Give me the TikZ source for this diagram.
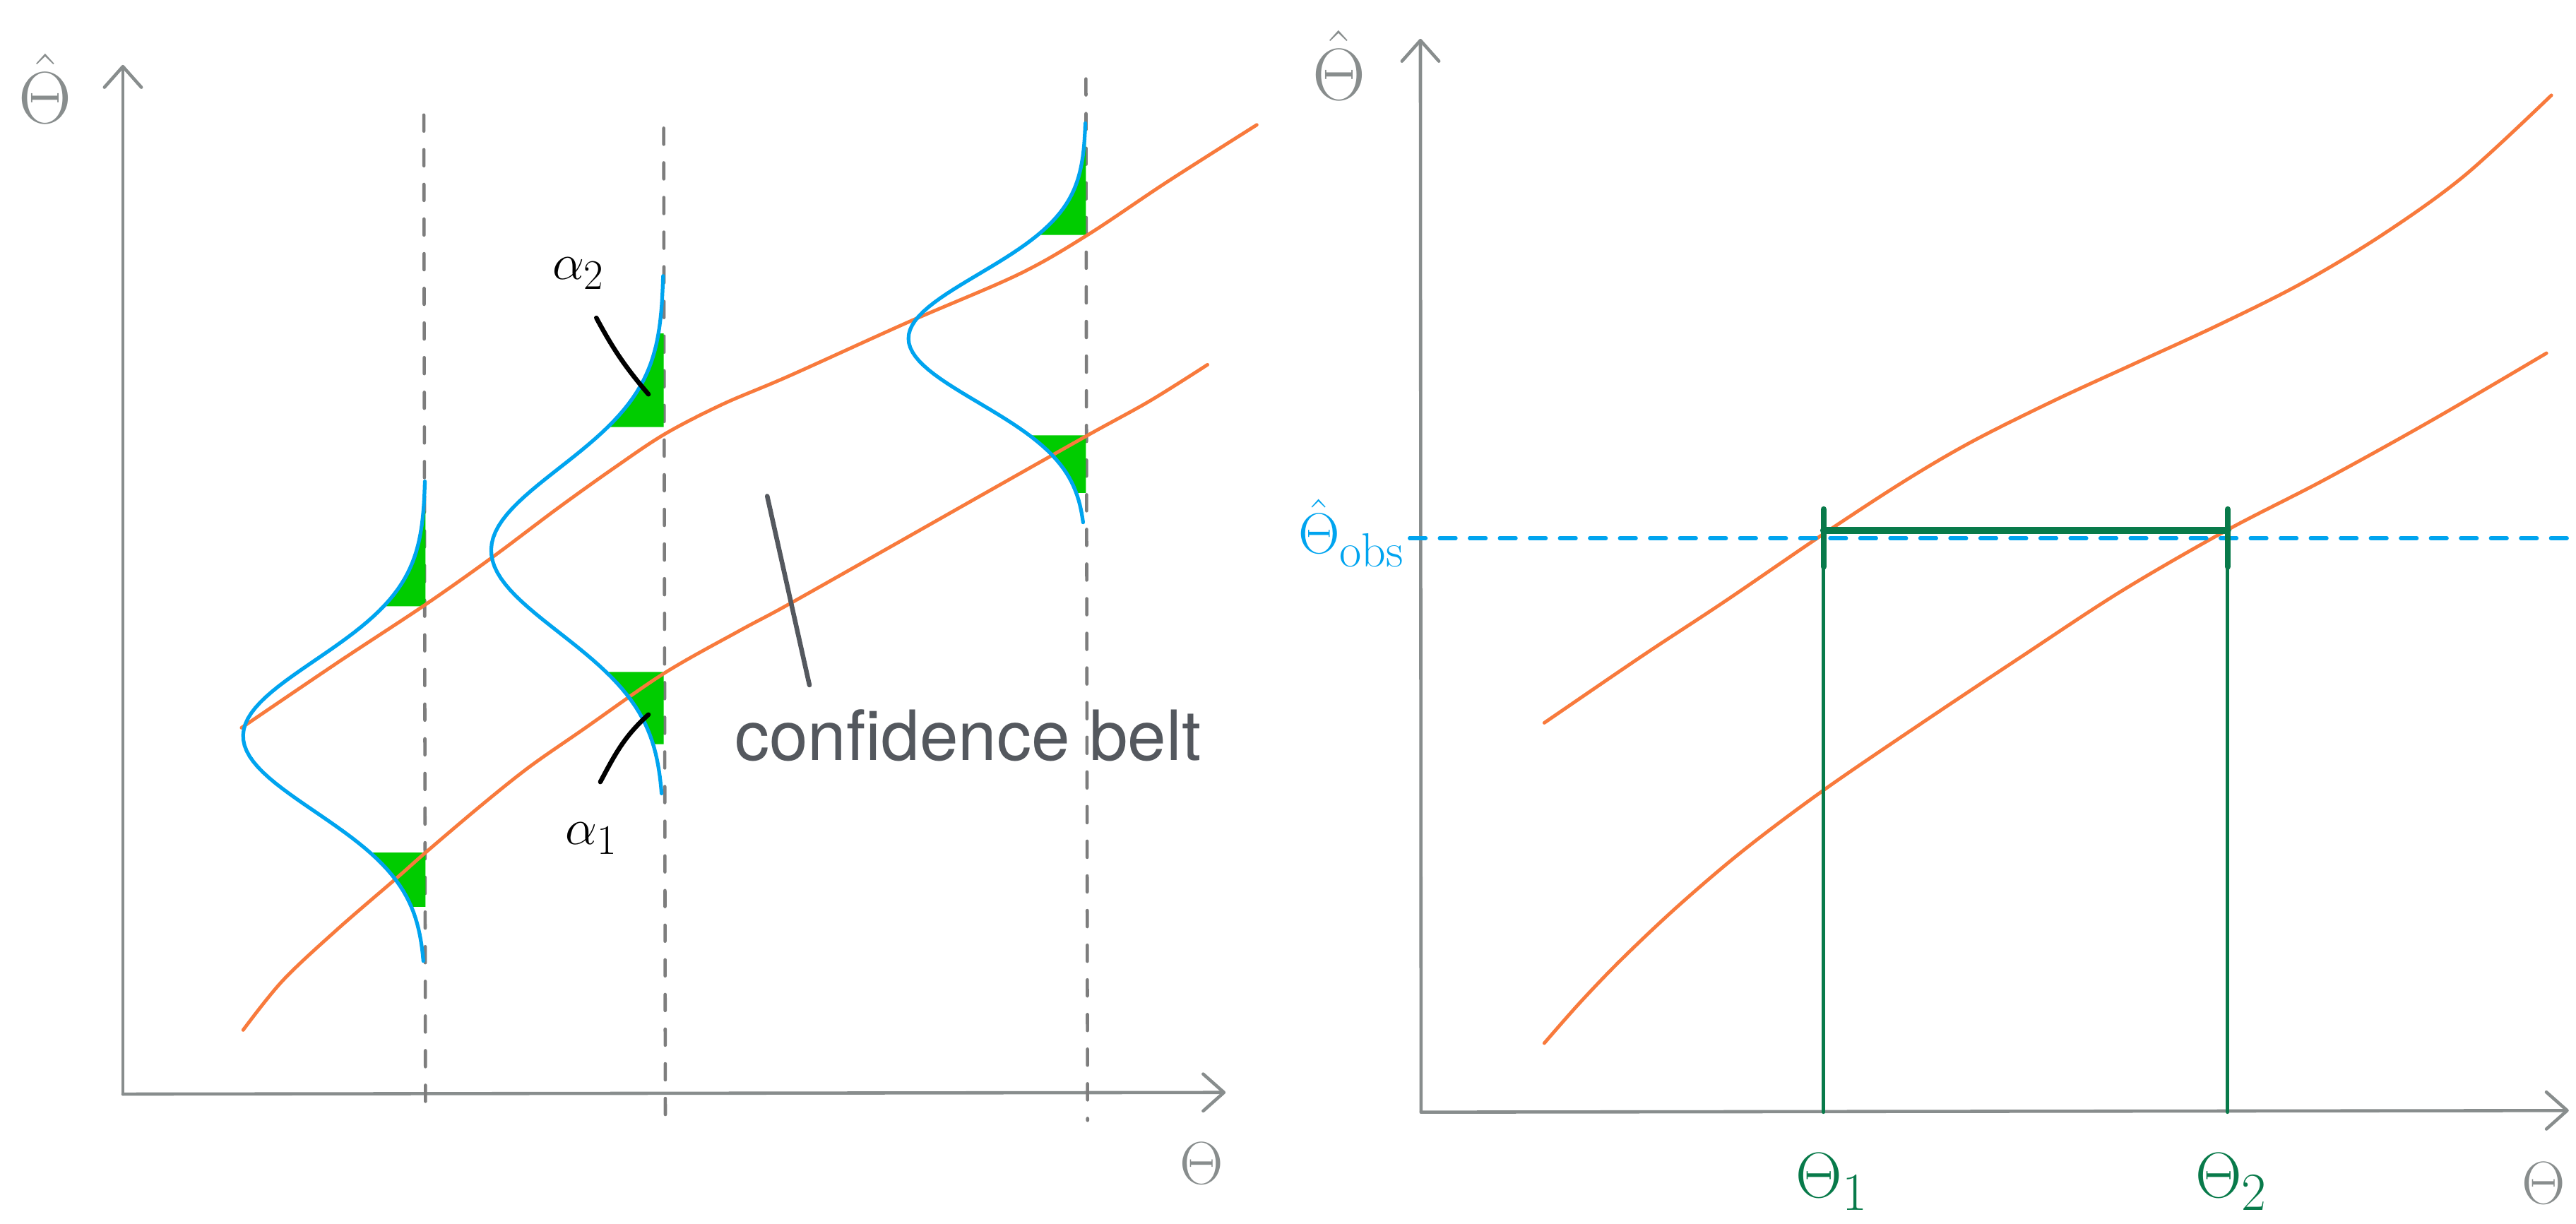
\documentclass[tikz,border=0pt]{standalone}
\usepackage{amsmath}
\usepackage{fontspec}
\setsansfont{TeX Gyre Heros}
\usetikzlibrary{arrows.meta}

\definecolor{axegris}{RGB}{136,141,141}
\definecolor{tiretgris}{RGB}{125,125,125}
\definecolor{ceinture}{RGB}{248,122,60}
\definecolor{densite}{RGB}{0,164,239}
\definecolor{queue}{RGB}{0,204,0}
\definecolor{intervalle}{RGB}{8,122,74}
\definecolor{legende}{RGB}{84,88,94}

\begin{document}
\begin{tikzpicture}[x=0.025cm, y=-0.025cm, line cap=round, line join=round,
    declare function={gx(\vy,\vb,\va,\vm,\vs)=\vb-\va*exp(-0.5*((\vy-\vm)/\vs)*((\vy-\vm)/\vs));},
    axe/.style={draw=axegris, line width=1.4pt, -{Straight Barb[length=9pt,width=16pt,round]}},
    tirets/.style={draw=tiretgris, line width=1.4pt, dash pattern=on 7pt off 8pt},
    ceint/.style={draw=ceinture, line width=1.5pt},
    gauss/.style={draw=densite, line width=1.6pt},
    etiq/.style={text=axegris, inner sep=0pt, font=\Huge}]
    \useasboundingbox (0,0) rectangle (1568,745);

    % Axes du graphique de gauche
    \coordinate (OG) at (74.8,666);
    \coordinate (YG) at (74.8,39.5);
    \coordinate (XG) at (746,665);
    \draw[axe] (OG) -- (YG);
    \draw[axe] (OG) -- (XG);
    \node[etiq, scale=1.28, anchor=base] (thetachapG) at (27.5,75) {$\hat{\Theta}$};
    \node[etiq, scale=1.05, anchor=base] (thetaG) at (731.5,721) {$\Theta$};

    % Verticales en tirets (valeurs fixes de Theta)
    \draw[tirets] (258,70) -- (259,681);
    \draw[tirets] (404,78) -- (405,681);
    \draw[tirets] (661,48) -- (662,682);

    % Queues des densites (zones vertes)
    \fill[queue] plot[domain=311:369, samples=30, variable=\t] ({gx(\t,259,111,448,46)}, {\t}) -- (259,369) -- (259,311) -- cycle;
    \fill[queue] plot[domain=519:552, samples=30, variable=\t] ({gx(\t,259,111,448,46)}, {\t}) -- (259,552) -- (259,519) -- cycle;
    \fill[queue] plot[domain=203:260, samples=30, variable=\t] ({gx(\t,404,105,335,50)}, {\t}) -- (404,260) -- (404,203) -- cycle;
    \fill[queue] plot[domain=409:453, samples=30, variable=\t] ({gx(\t,404,105,335,50)}, {\t}) -- (404,453) -- (404,409) -- cycle;
    \fill[queue] plot[domain=82:143, samples=30, variable=\t] ({gx(\t,661,108,206,39)}, {\t}) -- (661,143) -- (661,82) -- cycle;
    \fill[queue] plot[domain=265:300, samples=30, variable=\t] ({gx(\t,661,108,206,39)}, {\t}) -- (661,300) -- (661,265) -- cycle;

    % Bords de la ceinture de confiance
    \draw[ceint] plot[smooth, tension=0.55] coordinates {(147,443) (206,403) (259,368) (300,339) (340,309) (375,284) (405,264) (440,246) (480,229) (553,196) (620,167) (662,143) (710,111) (765,76)};
    \draw[ceint] plot[smooth, tension=0.55] coordinates {(148,627) (172,597) (205,566) (242,534) (259,519) (292,491) (322,467) (355,444) (404,410) (450,384) (478,369) (540,334) (600,300) (662,265) (700,244) (735,222)};

    % Densites de Theta chapeau
    \draw[gauss] plot[domain=293:585, samples=90, variable=\t] ({gx(\t,259,111,448,46)}, {\t});
    \draw[gauss] plot[domain=168:483, samples=90, variable=\t] ({gx(\t,404,105,335,50)}, {\t});
    \draw[gauss] plot[domain=75:318, samples=90, variable=\t] ({gx(\t,661,108,206,39)}, {\t});

    % Etiquettes alpha
    \node[anchor=base west, inner sep=0pt, font=\Huge, scale=0.88] (alphaH) at (336,170) {$\alpha_2$};
    \coordinate (alphaHa) at (363,193.5);
    \coordinate (alphaHb) at (394.7,240);
    \draw[line width=2pt] (alphaHa) to[bend right=6] (alphaHb);
    \node[anchor=base west, inner sep=0pt, font=\Huge, scale=0.88] (alphaB) at (344,514) {$\alpha_1$};
    \coordinate (alphaBa) at (394.7,435);
    \coordinate (alphaBb) at (365.4,476);
    \draw[line width=2pt] (alphaBa) to[out=222, in=62] (alphaBb);

    % Legende
    \node[anchor=base west, inner sep=0pt, text=legende, font=\sffamily\fontsize{30}{34}\selectfont] (ceintureTxt) at (447,463) {confidence belt};
    \coordinate (traitA) at (467,302);
    \coordinate (traitB) at (492.7,417);
    \draw[legende, line width=2pt] (traitA) -- (traitB);

    % Axes du graphique de droite
    \coordinate (OD) at (865,677);
    \coordinate (YD) at (864.6,23.6);
    \coordinate (XD) at (1563.6,676);
    \draw[axe] (OD) -- (YD);
    \draw[axe] (OD) -- (XD);
    \node[etiq, scale=1.28, anchor=base] (thetachapD) at (815,61) {$\hat{\Theta}$};
    \node[etiq, scale=1.05, anchor=base] (thetaD) at (1548.5,733) {$\Theta$};

    % Ceinture de confiance
    \draw[ceint] plot[smooth, tension=0.55] coordinates {(940,440) (1000,399) (1050,366) (1110,325) (1159,293) (1200,269) (1250,244) (1300,221) (1350,198) (1400,173) (1450,143) (1500,107) (1553,58)};
    \draw[ceint] plot[smooth, tension=0.55] coordinates {(940,635) (962,610) (988,583) (1022,551) (1062,517) (1110,481) (1170,440) (1230,400) (1291,360) (1355,323) (1415,292) (1480,256) (1550,215)};

    % Valeur observee
    \draw[densite, line width=1.6pt, dash pattern=on 7pt off 6pt] (858,327.6) -- (1568,327.6);
    \node[anchor=base west, inner sep=0pt, text=densite, font=\Huge, scale=1.0] (thetaobs) at (790,337) {$\hat{\Theta}_{\mathrm{obs}}$};

    % Intervalle [Theta_1, Theta_2]
    \coordinate (H1) at (1110,310);
    \coordinate (J1) at (1110,323);
    \coordinate (B1) at (1110,677);
    \coordinate (H2) at (1356,310);
    \coordinate (J2) at (1356,323);
    \coordinate (B2) at (1356,677);
    \draw[intervalle, line width=1.5pt] (H1) -- (B1);
    \draw[intervalle, line width=1.5pt] (H2) -- (B2);
    \draw[intervalle, line width=2.6pt] (H1) -- (1110,345);
    \draw[intervalle, line width=2.6pt] (H2) -- (1356,345);
    \draw[intervalle, line width=3pt] (J1) -- (J2);
    \node[anchor=base west, inner sep=0pt, text=intervalle, font=\Huge, scale=1.12] (theta1) at (1093,729) {$\Theta_1$};
    \node[anchor=base west, inner sep=0pt, text=intervalle, font=\Huge, scale=1.12] (theta2) at (1336,729) {$\Theta_2$};
\end{tikzpicture}
\end{document}
